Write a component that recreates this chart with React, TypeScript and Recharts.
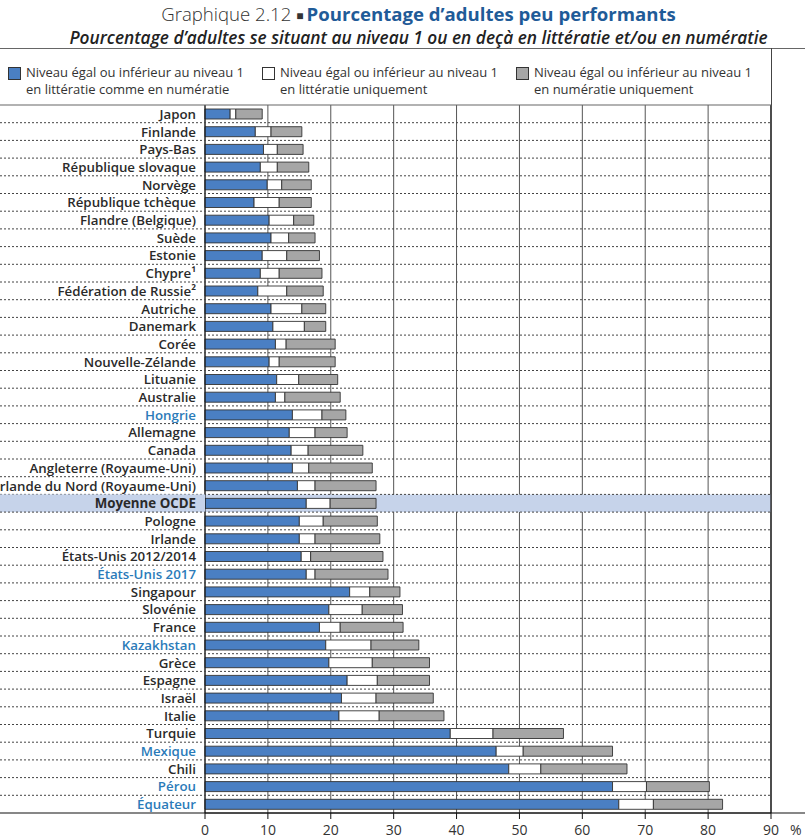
import React from 'react';
import { BarChart, Bar, XAxis, YAxis, CartesianGrid, ReferenceArea, ReferenceLine } from 'recharts';

const categories = [
  'Japon', 'Finlande', 'Pays-Bas', 'République slovaque', 'Norvège', 'République tchèque',
  'Flandre (Belgique)', 'Suède', 'Estonie', 'Chypre¹', 'Fédération de Russie²', 'Autriche',
  'Danemark', 'Corée', 'Nouvelle-Zélande', 'Lituanie', 'Australie', 'Hongrie', 'Allemagne',
  'Canada', 'Angleterre (Royaume-Uni)', 'Irlande du Nord (Royaume-Uni)', 'Moyenne OCDE',
  'Pologne', 'Irlande', 'États-Unis 2012/2014', 'États-Unis 2017', 'Singapour', 'Slovénie',
  'France', 'Kazakhstan', 'Grèce', 'Espagne', 'Israël', 'Italie', 'Turquie', 'Mexique',
  'Chili', 'Pérou', 'Équateur',
];

const bothLow = [
  4.0, 8.0, 9.3, 8.8, 9.9, 7.8, 10.2, 10.5, 9.1, 8.8, 8.4, 10.5, 10.8, 11.2, 10.2, 11.4,
  11.2, 13.9, 13.4, 13.7, 13.9, 14.7, 16.1, 15.0, 15.0, 15.3, 16.1, 23.0, 19.7, 18.2,
  19.2, 19.7, 22.6, 21.7, 21.3, 39.0, 46.3, 48.3, 64.8, 65.8,
];
const literacyOnly = [
  0.9, 2.5, 2.2, 2.7, 2.3, 4.0, 3.9, 2.8, 3.9, 3.0, 4.6, 4.9, 5.0, 1.7, 1.6, 3.5,
  1.5, 4.7, 4.1, 2.7, 2.6, 2.8, 3.8, 3.8, 2.5, 1.5, 1.4, 3.2, 5.3, 3.3,
  7.2, 6.9, 4.8, 5.5, 6.4, 6.8, 4.3, 5.1, 5.4, 5.5,
];
const numeracyOnly = [
  4.2, 4.9, 4.1, 5.0, 4.7, 5.1, 3.2, 4.2, 5.2, 6.8, 5.8, 3.8, 3.4, 7.8, 8.9, 6.2,
  8.8, 3.8, 5.1, 8.7, 10.1, 9.7, 7.3, 8.6, 10.3, 11.5, 11.6, 4.8, 6.4, 10.0,
  7.6, 9.1, 8.3, 9.1, 10.3, 11.2, 14.2, 13.7, 10.0, 11.0,
];
const xTicks = [0, 10, 20, 30, 40, 50, 60, 70, 80, 90];
const highlighted = ['Hongrie', 'États-Unis 2017', 'Kazakhstan', 'Mexique', 'Pérou', 'Équateur'];
const averageLabel = 'Moyenne OCDE';

const legendItems = [
  { color: '#4a7fc3', lines: ['Niveau égal ou inférieur au niveau 1', 'en littératie comme en numératie'] },
  { color: '#ffffff', lines: ['Niveau égal ou inférieur au niveau 1', 'en littératie uniquement'] },
  { color: '#a6a6a6', lines: ['Niveau égal ou inférieur au niveau 1', 'en numératie uniquement'] },
];

const data = categories.map((name, i) => ({
  name,
  both: bothLow[i],
  lit: literacyOnly[i],
  num: numeracyOnly[i],
}));

const W = 805;
const H = 838;
const TOP = 105;
const AXIS_H = 25;
const Y_W = 205;
const RIGHT = 34;
const PLOT_RIGHT = W - RIGHT;
const BAND = (H - AXIS_H - TOP) / categories.length;
const FONT = '"Open Sans", "Noto Sans", sans-serif';

const YTick = (props: any) => {
  const { y, payload, index } = props;
  const name = payload.value as string;
  const top = y - BAND / 2;
  const isLast = index === categories.length - 1;
  const isAvg = name === averageLabel;
  const color = highlighted.includes(name) ? '#2b7bb9' : '#2a2a2a';
  return (
    <g>
      {index === 0 ? (
        <line x1={0} x2={PLOT_RIGHT} y1={top} y2={top} stroke="#666" strokeWidth={1.2} />
      ) : (
        <line x1={0} x2={PLOT_RIGHT} y1={top} y2={top} stroke="#444" strokeWidth={1} strokeDasharray="2 2" />
      )}
      {isAvg && <rect x={0} y={top} width={Y_W} height={BAND} fill="#c6d3ea" />}
      {isLast && <line x1={0} x2={W} y1={top + BAND} y2={top + BAND} stroke="#111" strokeWidth={1.2} />}
      <text
        x={Y_W - 9}
        y={y}
        dy={5}
        textAnchor="end"
        fontFamily={FONT}
        fontSize={13.3}
        fontWeight={isAvg ? 700 : 600}
        fill={color}
      >
        {name}
      </text>
    </g>
  );
};

const XTick = (props: any) => {
  const { x, y, payload } = props;
  return (
    <g>
      <text x={x} y={y} dy={14} textAnchor="middle" fontFamily={FONT} fontSize={14} fill="#333">
        {payload.value}
      </text>
      {payload.value === 90 && (
        <text x={x + 19} y={y} dy={14} textAnchor="start" fontFamily={FONT} fontSize={14} fill="#333">
          %
        </text>
      )}
    </g>
  );
};

export default function App() {
  return (
    <div style={{ position: 'absolute', left: 0, top: 0, width: W, height: H, background: '#fff', fontFamily: FONT }}>
      <div style={{ position: 'absolute', left: 0, top: 0, width: W, paddingLeft: 32, boxSizing: 'border-box', textAlign: 'center', fontSize: 18.6, lineHeight: '28px', color: '#333', whiteSpace: 'nowrap' }}>
        <span style={{ fontWeight: 300 }}>Graphique 2.12 </span>
        <span style={{ fontSize: 12, verticalAlign: 'middle' }}>■ </span>
        <span style={{ fontWeight: 700, color: '#1f5b98' }}>Pourcentage d’adultes peu performants</span>
      </div>
      <div style={{ position: 'absolute', left: 0, top: 26, width: W, paddingLeft: 32, boxSizing: 'border-box', textAlign: 'center', fontSize: 17.3, lineHeight: '24px', fontStyle: 'italic', fontWeight: 600, color: '#222', whiteSpace: 'nowrap' }}>
        Pourcentage d’adultes se situant au niveau 1 ou en deçà en littératie et/ou en numératie
      </div>
      <div style={{ position: 'absolute', left: 0, top: 48, width: W, height: 0, borderTop: '1.5px solid #666' }} />
      <div style={{ position: 'absolute', left: PLOT_RIGHT, top: 48, width: 0, height: TOP - 48, borderLeft: '1.2px solid #444' }} />
      {legendItems.map((item, i) => (
        <div key={i} style={{ position: 'absolute', left: 8 + i * 254, top: 64, display: 'flex', alignItems: 'flex-start' }}>
          <div style={{ width: 11, height: 11, marginTop: 3, background: item.color, border: '1px solid #333', flex: 'none' }} />
          <div style={{ marginLeft: 5, fontSize: 13, lineHeight: '16.5px', color: '#333', whiteSpace: 'nowrap' }}>
            {item.lines.map((l, j) => (
              <div key={j}>{l}</div>
            ))}
          </div>
        </div>
      ))}
      <div style={{ position: 'absolute', left: 0, top: 0 }}>
        <BarChart
          width={W}
          height={H}
          data={data}
          layout="vertical"
          margin={{ top: TOP, right: RIGHT, bottom: 0, left: 0 }}
          barSize={10}
        >
          <CartesianGrid horizontal={false} vertical={true} stroke="#555" strokeWidth={1} />
          <ReferenceArea y1={averageLabel} y2={averageLabel} fill="#c6d3ea" fillOpacity={1} stroke="none" />
          <XAxis
            type="number"
            domain={[0, 90]}
            ticks={xTicks}
            height={AXIS_H}
            axisLine={{ stroke: '#111' }}
            tickLine={{ stroke: '#111' }}
            tickSize={6}
            tick={<XTick />}
            interval={0}
          />
          <YAxis
            type="category"
            dataKey="name"
            width={Y_W}
            axisLine={{ stroke: '#111' }}
            tickLine={false}
            tick={<YTick />}
            interval={0}
          />
          <ReferenceLine x={90} stroke="#111" strokeWidth={1.2} />
          <Bar dataKey="both" stackId="a" fill="#4a7fc3" stroke="#333" strokeWidth={0.9} isAnimationActive={false} />
          <Bar dataKey="lit" stackId="a" fill="#ffffff" stroke="#333" strokeWidth={0.9} isAnimationActive={false} />
          <Bar dataKey="num" stackId="a" fill="#a6a6a6" stroke="#333" strokeWidth={0.9} isAnimationActive={false} />
        </BarChart>
      </div>
    </div>
  );
}
